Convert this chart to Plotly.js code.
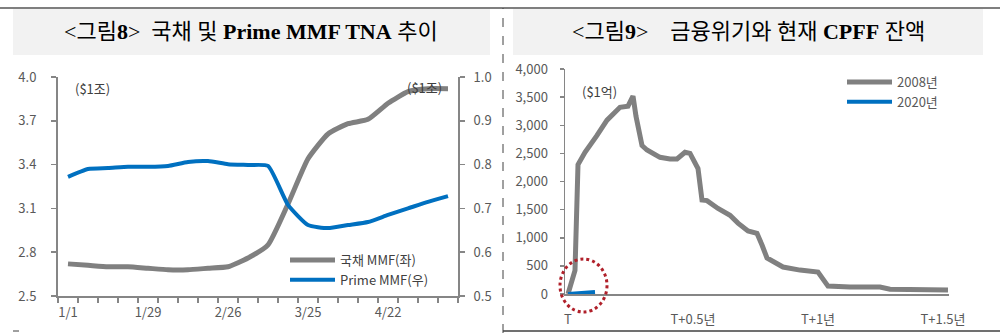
<!DOCTYPE html>
<html>
<head>
<meta charset="utf-8">
<script src="https://cdn.plot.ly/plotly-3.0.1.min.js"></script>
<style>html,body{margin:0;padding:0;background:#fff;}#chart{width:1000px;height:335px;}</style>
</head>
<body>
<div id="chart"></div>
<script>
// ---- Figure 8 data (weekly) ----
const weeks = ['1/1','1/8','1/15','1/22','1/29','2/5','2/12','2/19','2/26','3/4','3/11','3/18','3/25','4/1','4/8','4/15','4/22','4/29','5/6','5/13'];
const weekLabels = ['1/1','','','','1/29','','','','2/26','','','','3/25','','','','4/22','','',''];
const govtMMF = [2.72,2.71,2.70,2.70,2.69,2.68,2.68,2.69,2.70,2.76,2.85,3.13,3.44,3.61,3.68,3.71,3.82,3.90,3.92,3.92];
const primeMMF = [0.772,0.790,0.792,0.795,0.795,0.797,0.806,0.808,0.801,0.799,0.797,0.708,0.662,0.655,0.662,0.669,0.685,0.700,0.715,0.728];

// ---- Figure 9 data (years since T) ----
const t2008 = [0,0.028,0.04,0.068,0.116,0.156,0.188,0.208,0.24,0.26,0.272,0.296,0.316,0.368,0.408,0.436,0.468,0.488,0.52,0.536,0.556,0.6,0.648,0.68,0.72,0.756,0.776,0.796,0.86,0.928,1.0,1.02,1.04,1.128,1.248,1.288,1.396,1.52];
const cpff2008 = [0,420,2300,2520,2820,3090,3230,3320,3340,3520,3160,2640,2560,2430,2400,2400,2520,2500,2230,1670,1660,1520,1400,1260,1120,1080,870,640,480,425,390,250,140,125,125,85,75,70];
const t2020 = [0,0.04,0.08,0.108];
const cpff2020 = [0,15,25,35];
const tTickVals = [0,0.5,1,1.5];
const tTickText = ['T','T+0.5년','T+1년','T+1.5년'];

const W = 1000, H = 335;
const px = v => v / W;
const py = v => 1 - v / H;

const GRAY = '#808080', BLUE = '#0070c0', AX = '#868686';
const FONT = '"Noto Sans CJK KR", "Noto Sans", sans-serif';
const tickFont = {family: FONT, size: 13, color: '#595959'};

const traces = [
  {x: weeks, y: govtMMF, xaxis: 'x', yaxis: 'y', type: 'scatter', mode: 'lines', name: '국채 MMF(좌)',
   line: {color: GRAY, width: 5, shape: 'spline', smoothing: 0.5}, legend: 'legend'},
  {x: weeks, y: primeMMF, xaxis: 'x', yaxis: 'y2', type: 'scatter', mode: 'lines', name: 'Prime MMF(우)',
   line: {color: BLUE, width: 4, shape: 'spline', smoothing: 0.5}, legend: 'legend'},
  {x: t2008, y: cpff2008, xaxis: 'x2', yaxis: 'y3', type: 'scatter', mode: 'lines', name: '2008년',
   line: {color: GRAY, width: 5}, legend: 'legend2'},
  {x: t2020, y: cpff2020, xaxis: 'x2', yaxis: 'y3', type: 'scatter', mode: 'lines', name: '2020년',
   line: {color: BLUE, width: 4}, legend: 'legend2'}
];

const titleFont = {family: '"Liberation Serif", "Noto Sans CJK KR", serif', size: 22, color: '#000'};
const noteFont = {family: FONT, size: 13, color: '#404040'};

const layout = {
  width: W, height: H,
  margin: {l: 0, r: 0, t: 0, b: 0, pad: 0},
  paper_bgcolor: '#fff', plot_bgcolor: 'rgba(0,0,0,0)',
  showlegend: true,
  legend: {x: px(285), y: py(245), xanchor: 'left', yanchor: 'top', bgcolor: 'rgba(0,0,0,0)',
           font: {family: FONT, size: 13, color: '#404040'}, itemwidth: 45, tracegroupgap: 0},
  legend2: {x: px(842), y: py(67), xanchor: 'left', yanchor: 'top', bgcolor: 'rgba(0,0,0,0)',
           font: {family: FONT, size: 13, color: '#595959'}, itemwidth: 45, tracegroupgap: 0},
  xaxis: {domain: [px(58), px(458)], anchor: 'y', type: 'category', range: [-0.5, 19.5],
          tickson: 'boundaries', tickmode: 'array', tickvals: weeks, ticktext: weekLabels, tickangle: 0,
          ticks: 'outside', ticklen: 5, tickcolor: AX, tickwidth: 1.5,
          showline: true, linecolor: AX, linewidth: 2, showgrid: false, zeroline: false,
          tickfont: tickFont, ticklabelstandoff: 3, fixedrange: true},
  yaxis: {domain: [py(296), py(77)], anchor: 'x', range: [2.5, 4.0], tick0: 2.5, dtick: 0.3, tickformat: '.1f',
          ticks: 'outside', ticklen: 5, tickcolor: AX, tickwidth: 1.5,
          showline: true, linecolor: AX, linewidth: 2, showgrid: false, zeroline: false,
          tickfont: tickFont, ticklabelstandoff: 12},
  yaxis2: {domain: [py(296), py(77)], anchor: 'x', overlaying: 'y', side: 'right', range: [0.5, 1.0], tick0: 0.5, dtick: 0.1,
          tickformat: '.1f', ticks: 'outside', ticklen: 5, tickcolor: AX, tickwidth: 1.5,
          showline: true, linecolor: AX, linewidth: 2, showgrid: false, zeroline: false,
          tickfont: tickFont, ticklabelstandoff: 6},
  xaxis2: {domain: [px(565), px(949)], anchor: 'y3', range: [-0.012, 1.524],
          tickmode: 'array', tickvals: tTickVals, ticktext: tTickText, ticks: '', tickangle: 0,
          showline: true, linecolor: AX, linewidth: 2, showgrid: false, zeroline: false,
          tickfont: tickFont, ticklabelstandoff: 12},
  yaxis3: {domain: [py(294), py(69)], anchor: 'x2', range: [0, 4000], dtick: 500, tickformat: ',d',
          ticks: 'outside', ticklen: 4, tickcolor: AX, tickwidth: 1.5,
          showline: true, linecolor: AX, linewidth: 1.5, showgrid: false, zeroline: false,
          tickfont: tickFont, ticklabelstandoff: 9},
  shapes: [
    {type: 'line', xref: 'paper', yref: 'paper', x0: 0, x1: 1, y0: py(8), y1: py(8), line: {color: '#7f7f7f', width: 2}, layer: 'below'},
    {type: 'rect', xref: 'paper', yref: 'paper', x0: px(13), x1: px(490), y0: py(55), y1: py(9), fillcolor: '#f2f2f2', line: {width: 0}, layer: 'below'},
    {type: 'rect', xref: 'paper', yref: 'paper', x0: px(513), x1: px(983), y0: py(55), y1: py(9), fillcolor: '#f2f2f2', line: {width: 0}, layer: 'below'},
    {type: 'line', xref: 'paper', yref: 'paper', x0: px(503), x1: px(503), y0: py(333), y1: py(8), line: {color: '#404040', width: 1, dash: 'dash'}},
    {type: 'line', xref: 'paper', yref: 'paper', x0: px(503), x1: 1, y0: py(331), y1: py(331), line: {color: '#404040', width: 1.5}},
    {type: 'line', xref: 'paper', yref: 'paper', x0: px(13), x1: px(19), y0: py(331), y1: py(331), line: {color: '#404040', width: 1}},
    {type: 'circle', xref: 'paper', yref: 'paper', x0: px(560), x1: px(607), y0: py(312), y1: py(259), line: {color: '#b0202a', width: 3, dash: 'dot'}}
  ],
  annotations: [
    {xref: 'paper', yref: 'paper', x: px(251), y: py(32), xanchor: 'center', yanchor: 'middle', showarrow: false,
     text: '&lt;그림<b>8</b>&gt;&nbsp;&nbsp;국채 및 <b>Prime MMF TNA</b> 추이', font: titleFont},
    {xref: 'paper', yref: 'paper', x: px(748), y: py(32), xanchor: 'center', yanchor: 'middle', showarrow: false,
     text: '&lt;그림<b>9</b>&gt;&nbsp;&nbsp;&nbsp;&nbsp;금융위기와 현재 <b>CPFF</b> 잔액', font: titleFont},
    {xref: 'paper', yref: 'paper', x: px(73), y: py(88), xanchor: 'left', yanchor: 'middle', showarrow: false, text: '($1조)', font: noteFont},
    {xref: 'paper', yref: 'paper', x: px(444), y: py(87), xanchor: 'right', yanchor: 'middle', showarrow: false, text: '($1조)', font: noteFont},
    {xref: 'paper', yref: 'paper', x: px(580), y: py(91), xanchor: 'left', yanchor: 'middle', showarrow: false, text: '($1억)', font: noteFont}
  ]
};

Plotly.newPlot('chart', traces, layout, {staticPlot: true, displayModeBar: false});
</script>
</body>
</html>
